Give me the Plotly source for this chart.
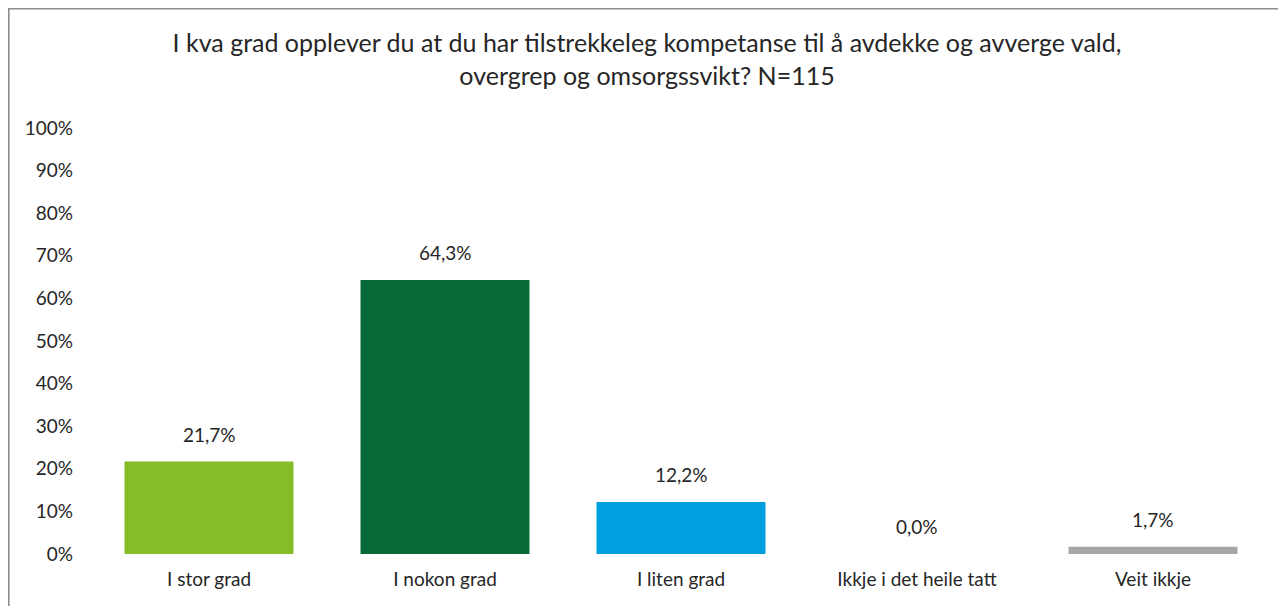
import plotly.graph_objects as go

categories = ["I stor grad", "I nokon grad", "I liten grad", "Ikkje i det heile tatt", "Veit ikkje"]
values = [0.217, 0.643, 0.122, 0.0, 0.017]
labels = ["21,7%", "64,3%", "12,2%", "0,0%", "1,7%"]
colors = ["#86BC25", "#066A38", "#00A0DF", "#00A0DF", "#A6A6A6"]
tick_vals = [i / 10 for i in range(11)]
tick_text = [f"{i * 10}%" for i in range(11)]

FONT = "Lato"
TXT = "#262626"

# The page body has an 8px margin; figure sized to fit the 1286x606 window
W, H = 1278, 598
L, R, T, B = 83, 15, 120, 52
pw = W - L - R
ph = H - T - B


def px(x):
    return (x - L) / pw


def py(y):
    return (H - B - y) / ph


fig = go.Figure()
fig.add_trace(go.Bar(
    x=categories, y=values, marker=dict(color=colors, line=dict(width=0)),
    width=0.716, hoverinfo="skip",
))
for c, v, t in zip(categories, values, labels):
    fig.add_annotation(x=c, y=v, text=t, showarrow=False, yanchor="bottom",
                       yshift=14, font=dict(family=FONT, size=19, color=TXT))

# chart border (top and left visible)
fig.add_shape(type="rect", xref="paper", yref="paper",
              x0=px(0.8), x1=px(W + 20), y0=py(H + 20), y1=py(0.8),
              line=dict(color="#8c8c8c", width=1.6), fillcolor="rgba(0,0,0,0)", layer="below")

fig.update_layout(
    width=W, height=H,
    margin=dict(l=L, r=R, t=T, b=B),
    paper_bgcolor="white", plot_bgcolor="white",
    showlegend=False,
    title=dict(
        text="I kva grad opplever du at du har tilstrekkeleg kompetanse til å avdekke og avverge vald,<br>overgrep og omsorgssvikt? N=115",
        x=0.5, xref="container", xanchor="center",
        y=1 - 44 / H, yref="container", yanchor="top",
        font=dict(family=FONT, size=25, color=TXT),
    ),
    font=dict(family=FONT, size=19, color=TXT),
)
fig.update_yaxes(range=[0, 1], tickvals=tick_vals, ticktext=tick_text,
                 showgrid=False, zeroline=False, showline=False,
                 ticks="", ticklabelstandoff=17, tickfont=dict(family=FONT, size=19, color=TXT))
fig.update_xaxes(showgrid=False, zeroline=False, showline=False, ticks="",
                 ticklabelstandoff=12, tickfont=dict(family=FONT, size=19, color=TXT))

fig.write_html("out.html")
